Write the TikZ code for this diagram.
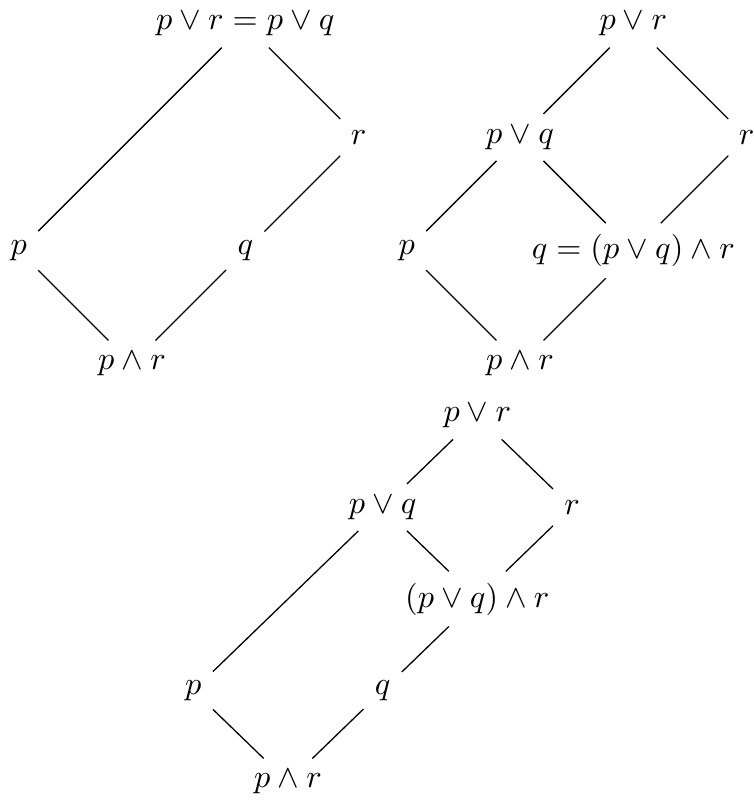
\documentclass[tikz,border=0pt]{standalone}
\usepackage{amsmath}
\usepackage{amssymb}
\usepackage{tikz}
\usetikzlibrary{positioning}

\begin{document}
\begin{tikzpicture}[on grid,
node distance=1.233cm and 1.233cm,
]
\useasboundingbox (0,0) rectangle (8.194,-8.792);

%Nodes
\node                   (pr1)   at (1.436,-3.961)          {$p \wedge r$};
\node                   (p1)    [above left=of pr1]        {$p$};
\node                   (q1)    [above right=of pr1]       {$q$};
\node                   (r1)    [above right=of q1]        {$r$};
\node                   (top1)  [above left=of r1]         {$p \vee r = p \vee q$};

\node                   (pr2)   at (5.658,-3.961)          {$p \wedge r$};
\node                   (p2)    [above left=of pr2]        {$p$};
\node                   (q2)    [above right=of pr2]       {$q = (p \vee q) \wedge r$};
\node                   (pq2)   [above right=of p2]        {$p \vee q$};
\node                   (r2)    [above right=of q2]        {$r$};
\node                   (top2)  [above right=of pq2]       {$p \vee r$};

\begin{scope}[node distance=0.996cm and 1.03cm]
\node                   (pr3)   at (3.134,-8.509)          {$p \wedge r$};
\node                   (p3)    [above left=of pr3]        {$p$};
\node                   (q3)    [above right=of pr3]       {$q$};
\node                   (pqr3)  [above right=of q3]        {$(p \vee q) \wedge r$};
\node                   (pq3)   [above left=of pqr3]       {$p \vee q$};
\node                   (r3)    [above right=of pqr3]      {$r$};
\node                   (top3)  [above left=of r3]         {$p \vee r$};
\end{scope}

%Lines
\draw (pr1) -- (p1);
\draw (pr1) -- (q1);
\draw (q1) -- (r1);
\draw (r1) -- (top1);
\draw (p1) -- (top1);

\draw (pr2) -- (p2);
\draw (pr2) -- (q2);
\draw (p2) -- (pq2);
\draw (q2) -- (pq2);
\draw (q2) -- (r2);
\draw (pq2) -- (top2);
\draw (r2) -- (top2);

\draw (pr3) -- (p3);
\draw (pr3) -- (q3);
\draw (q3) -- (pqr3);
\draw (pqr3) -- (pq3);
\draw (pqr3) -- (r3);
\draw (p3) -- (pq3);
\draw (pq3) -- (top3);
\draw (r3) -- (top3);

\end{tikzpicture}
\end{document}
